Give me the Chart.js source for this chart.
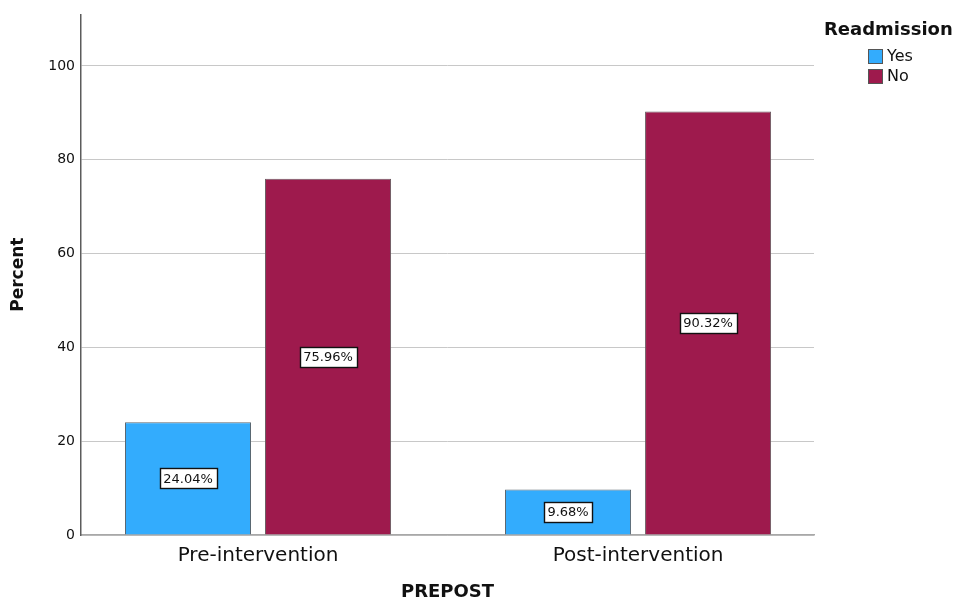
<!DOCTYPE html>
<html>
<head>
<meta charset="utf-8">
<script src="https://cdn.jsdelivr.net/npm/chart.js@4"></script>
<style>
  html, body { margin: 0; padding: 0; background: #fff; }
  #wrap { width: 960px; height: 603px; }
</style>
</head>
<body>
<div id="wrap"><canvas id="c" width="960" height="603"></canvas></div>
<script>
// Readmission percentages before and after the intervention
const categories = ['Pre-intervention', 'Post-intervention'];
const seriesNames = ['Yes', 'No'];
const yesPercent = [24.04, 9.68];
const noPercent = [75.96, 90.32];
const yTicks = [0, 20, 40, 60, 80, 100];
const legendTitle = 'Readmission';
const xTitle = 'PREPOST';
const yTitle = 'Percent';

const FONT = "'DejaVu Sans', sans-serif";
const colors = { Yes: '#33acfd', No: '#9e1a4d' };

const toPoints = arr => arr.map((v, i) => ({ x: i, y: v }));

// White boxed percentage label in the middle of each bar
const valueLabels = {
  id: 'valueLabels',
  afterDatasetsDraw(chart) {
    const ctx = chart.ctx;
    ctx.save();
    ctx.font = '13px ' + FONT;
    ctx.textAlign = 'center';
    ctx.textBaseline = 'middle';
    chart.data.datasets.forEach((ds, di) => {
      const meta = chart.getDatasetMeta(di);
      meta.data.forEach((bar, i) => {
        const text = ds.data[i].y.toFixed(2) + '%';
        const cx = bar.x;
        const cy = (bar.y + bar.base) / 2;
        const w = ctx.measureText(text).width + 7;
        const h = 20;
        const x0 = Math.round(cx - w / 2) + 0.5;
        const y0 = Math.round(cy - h / 2) + 0.5;
        ctx.fillStyle = '#ffffff';
        ctx.fillRect(x0, y0, Math.round(w), h);
        ctx.strokeStyle = '#111';
        ctx.lineWidth = 1.4;
        ctx.strokeRect(x0, y0, Math.round(w), h);
        ctx.fillStyle = '#111';
        ctx.fillText(text, cx, cy + 1);
      });
    });
    ctx.restore();
  }
};

// Legend block in the top-right corner
const sideLegend = {
  id: 'sideLegend',
  afterDraw(chart) {
    const ctx = chart.ctx;
    ctx.save();
    ctx.fillStyle = '#111';
    ctx.font = 'bold 18px ' + FONT;
    ctx.textAlign = 'left';
    ctx.textBaseline = 'middle';
    ctx.fillText(legendTitle, 824, 30);
    ctx.font = '16px ' + FONT;
    chart.data.datasets.forEach((ds, i) => {
      const y = 49 + i * 20;
      ctx.fillStyle = ds.backgroundColor;
      ctx.fillRect(868, y, 15, 15);
      ctx.strokeStyle = '#555';
      ctx.lineWidth = 1;
      ctx.strokeRect(868.5, y + 0.5, 14, 14);
      ctx.fillStyle = '#111';
      ctx.fillText(ds.label, 887, y + 8);
    });
    ctx.restore();
  }
};

new Chart(document.getElementById('c'), {
  type: 'bar',
  data: {
    datasets: [
      { label: seriesNames[0], data: toPoints(yesPercent), backgroundColor: colors.Yes,
        borderColor: '#5b6770', borderWidth: 1 },
      { label: seriesNames[1], data: toPoints(noPercent), backgroundColor: colors.No,
        borderColor: '#6a5a60', borderWidth: 1 }
    ]
  },
  options: {
    responsive: false,
    animation: false,
    devicePixelRatio: 1,
    categoryPercentage: 0.737,
    barPercentage: 0.9,
    layout: { padding: { top: 12, right: 146, left: 0, bottom: 0 } },
    plugins: {
      legend: { display: false },
      tooltip: { enabled: false }
    },
    scales: {
      x: {
        type: 'linear',
        offset: false,
        min: -0.4658,
        max: 1.463,
        bounds: 'ticks',
        afterBuildTicks: s => { s.ticks = categories.map((_, i) => ({ value: i })); },
        afterDataLimits: s => { s.min = -0.4658; s.max = 1.463; },
        afterFit: s => { s.height = 68; },
        grid: { display: false, drawTicks: false, offset: false },
        border: { display: true, color: '#a8a8a8', width: 1.5 },
        ticks: {
          autoSkip: false,
          maxRotation: 0,
          padding: 9,
          color: '#111',
          font: { family: FONT, size: 20 },
          callback: v => categories[v] ?? ''
        },
        title: {
          display: true,
          text: xTitle,
          color: '#111',
          font: { family: FONT, size: 18, weight: 'bold' },
          padding: { top: 0, bottom: 0 }
        }
      },
      y: {
        min: 0,
        max: 111,
        afterBuildTicks: s => { s.ticks = yTicks.map(v => ({ value: v })); },
        afterFit: s => { s.width = 81; },
        grid: { color: '#c8c8c8', lineWidth: 1, drawTicks: false },
        border: { display: true, color: '#5c5c5c', width: 1.5 },
        ticks: {
          padding: 6,
          color: '#111',
          font: { family: FONT, size: 14 }
        },
        title: {
          display: true,
          text: yTitle,
          color: '#111',
          font: { family: FONT, size: 17, weight: 'bold' },
          padding: { top: 8, bottom: 0 }
        }
      }
    }
  },
  plugins: [valueLabels, sideLegend]
});
</script>
</body>
</html>
